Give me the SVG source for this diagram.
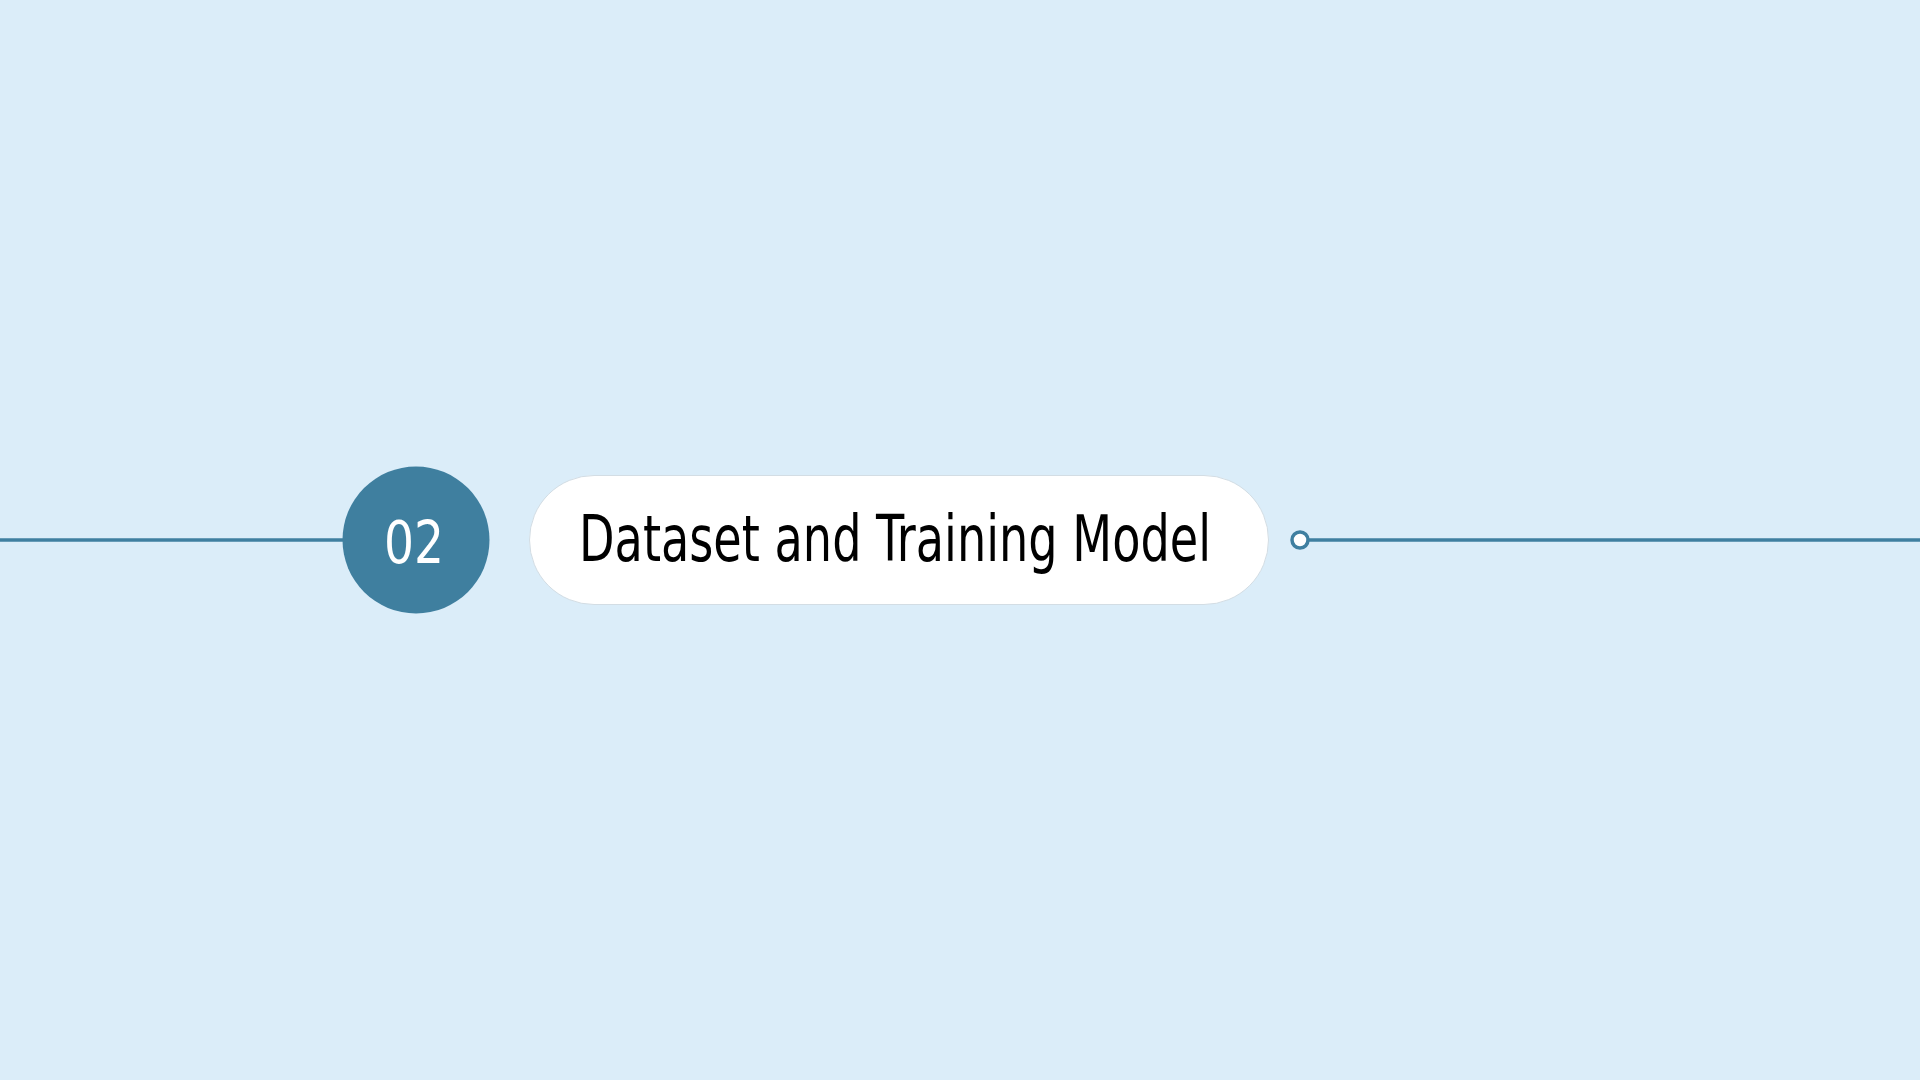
<svg xmlns="http://www.w3.org/2000/svg" width="1920" height="1080" viewBox="0 0 1920 1080">
<style>
.line{stroke:#3f7fa0;stroke-width:3.5;fill:none}
.num{font-family:"DejaVu Sans Condensed","DejaVu Sans","Liberation Sans",sans-serif;font-stretch:condensed;font-size:58px;fill:#ffffff}
.title{font-family:"DejaVu Sans Condensed","DejaVu Sans","Liberation Sans",sans-serif;font-stretch:condensed;font-size:64px;fill:#000000}
</style>
<rect width="1920" height="1080" fill="#dbedf9"/>
<g id="connectors">
<line class="line" x1="0" y1="540" x2="345" y2="540"/>
<line class="line" x1="1309" y1="540" x2="1920" y2="540"/>
<circle cx="1300" cy="540" r="8" fill="#ffffff" stroke="#3f7fa0" stroke-width="3.5"/>
</g>
<g id="node-number">
<circle cx="416" cy="540" r="73.5" fill="#3f7f9f"/>
<text class="num" x="414" y="563" text-anchor="middle" textLength="60" lengthAdjust="spacingAndGlyphs">02</text>
</g>
<g id="node-title">
<rect x="529.5" y="475.5" width="739" height="129" rx="64.5" fill="#ffffff" stroke="#d3dde4" stroke-width="1"/>
<text class="title" x="579" y="561" textLength="632" lengthAdjust="spacingAndGlyphs">Dataset and Training Model</text>
</g>
</svg>
